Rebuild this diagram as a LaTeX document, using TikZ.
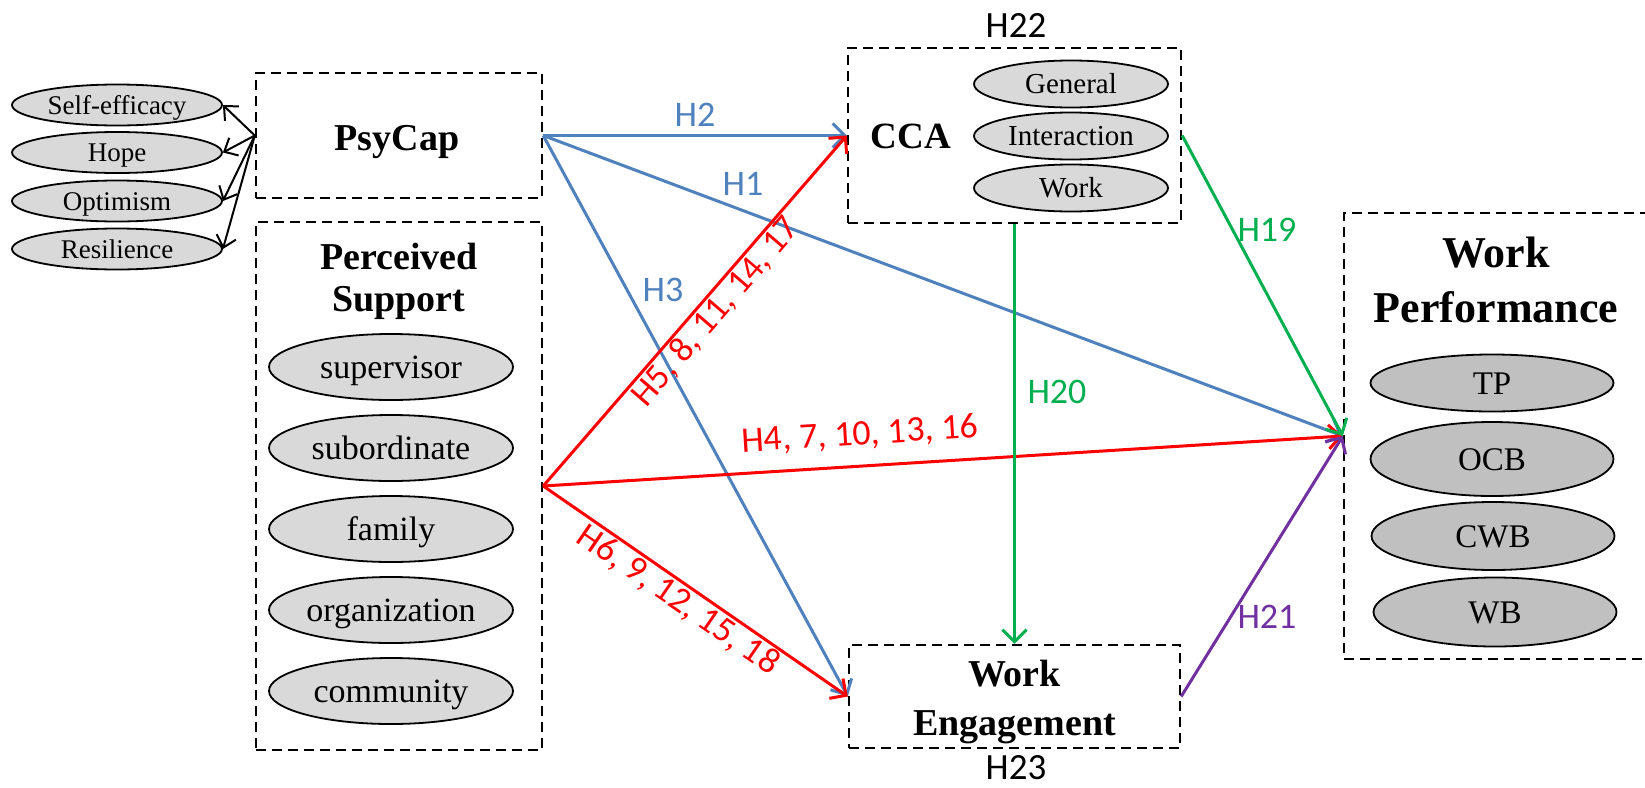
\documentclass[tikz,border=0pt]{standalone}
\usepackage{fontspec}
\setmainfont{Liberation Serif}
\newfontfamily\labfont{Carlito}
\usetikzlibrary{shapes.geometric,arrows.meta}
\definecolor{hblue}{HTML}{4F81BD}
\definecolor{hred}{HTML}{FF0000}
\definecolor{hgreen}{HTML}{00B050}
\definecolor{hpurple}{HTML}{7030A0}
\definecolor{elfill}{HTML}{D9D9D9}
\definecolor{elfillB}{HTML}{C0C0C0}
\begin{document}
\begin{tikzpicture}[x=1pt,y=-1pt,
  dbox/.style={draw, dash pattern=on 10pt off 6pt, line width=2.4pt, inner sep=0, rectangle},
  el/.style={ellipse, draw, line width=1.8pt, fill=elfill, inner sep=0, text depth=0pt},
  elA/.style={el, minimum width=210, minimum height=41, text height=18pt, font=\fontsize{27}{30}\selectfont},
  elP/.style={el, minimum width=244, minimum height=66, text height=22.5pt, font=\fontsize{34}{38}\selectfont},
  elC/.style={el, minimum width=194, minimum height=47, text height=19pt, font=\fontsize{29}{32}\selectfont},
  elW/.style={el, fill=elfillB, minimum width=243, text height=22pt, font=\fontsize{33}{36}\selectfont},
  ttl/.style={inner sep=0, align=center},
  lab/.style={inner sep=0, font=\labfont\fontsize{36}{40}\selectfont},
  conn/.style={line width=3pt, -{Straight Barb[length=12pt,width=24pt]}},
  blk/.style={line width=2pt, -{Straight Barb[length=11pt,width=20pt]}}
]
\clip (0,0) rectangle (1645,787);
\fill[white] (0,0) rectangle (1645,787);

% boxes
\node[dbox, minimum width=286, minimum height=125] (psy) at (399,135.5) {};
\node[dbox, minimum width=286, minimum height=528] (ps) at (399,486) {};
\node[dbox, minimum width=333, minimum height=175] (cca) at (1014.5,135.5) {};
\node[dbox, minimum width=331, minimum height=103] (we) at (1014.5,696.5) {};
\node[dbox, minimum width=346, minimum height=446] (wp) at (1517,436) {};

% titles
\node[ttl, font=\fontsize{38}{42}\selectfont\bfseries, anchor=base] (psyt) at (397,150) {PsyCap};
\node[ttl, font=\fontsize{38}{42}\selectfont\bfseries] (pst) at (399,281) {Perceived\\Support};
\node[ttl, font=\fontsize{37}{40}\selectfont\bfseries, anchor=base] (ccat) at (911,148) {CCA};
\node[ttl, font=\fontsize{38}{49}\selectfont\bfseries] (wet) at (1014.5,702) {Work\\Engagement};
\node[ttl, font=\fontsize{44}{55}\selectfont\bfseries] (wpt) at (1496,279.5) {Work\\Performance};

% left ellipses
\node[elA] (se) at (117,105) {Self-efficacy};
\node[elA] (ho) at (117,152.5) {Hope};
\node[elA] (op) at (117,201) {Optimism};
\node[elA] (re) at (117,249) {Resilience};

% perceived support ellipses
\node[elP] (sup) at (391,367) {supervisor};
\node[elP] (sub) at (391,448) {subordinate};
\node[elP] (fam) at (391,529) {family};
\node[elP] (org) at (391,610) {organization};
\node[elP] (com) at (391,691) {community};

% CCA ellipses
\node[elC] (gen) at (1071,84) {General};
\node[elC] (int) at (1071,136) {Interaction};
\node[elC] (wrk) at (1071,188) {Work};

% WP ellipses
\node[elW, minimum height=57] (tp) at (1492,383) {TP};
\node[elW, minimum height=74] (ocb) at (1492,459) {OCB};
\node[elW, minimum height=68] (cwb) at (1493,536) {CWB};
\node[elW, minimum height=69] (wb) at (1495,612) {WB};

% black arrows
\draw[blk] (psy.west) -- (se.east);
\draw[blk] (psy.west) -- (ho.east);
\draw[blk] (psy.west) -- (op.east);
\draw[blk] (psy.west) -- (re.east);

% blue
\draw[conn, hblue] (psy.east) -- (cca.west);
\draw[conn, hblue] (psy.east) -- (wp.west);
\draw[conn, hblue] (psy.east) -- (we.west);
% red
\draw[conn, hred] (ps.east) -- (cca.west);
\draw[conn, hred] (ps.east) -- (wp.west);
\draw[conn, hred] (ps.east) -- (we.west);
% green / purple
\draw[conn, hgreen] (cca.south) -- (we.north);
\draw[conn, hgreen] (cca.east) -- (wp.west);
\draw[conn, hpurple] (we.east) -- (wp.west);

% labels
\node[lab, font=\labfont\fontsize{37}{40}\selectfont] (h22) at (1016,25) {H22};
\node[lab, font=\labfont\fontsize{37}{40}\selectfont] (h23) at (1016,768) {H23};
\node[lab, hblue] (h2) at (695,115) {H2};
\node[lab, hblue] (h1) at (743,184) {H1};
\node[lab, hblue] (h3) at (663,290) {H3};
\node[lab, hred, rotate=49.3] (h5) at (716,312) {H5, 8, 11, 14, 17};
\node[lab, hred, rotate=3.5] (h4) at (860,435) {H4, 7, 10, 13, 16};
\node[lab, hred, rotate=-34.5] (h6) at (678,600) {H6, 9, 12, 15, 18};
\node[lab, hgreen] (h20) at (1057,392) {H20};
\node[lab, hgreen] (h19) at (1267,230) {H19};
\node[lab, hpurple] (h21) at (1267,617) {H21};
\end{tikzpicture}
\end{document}
